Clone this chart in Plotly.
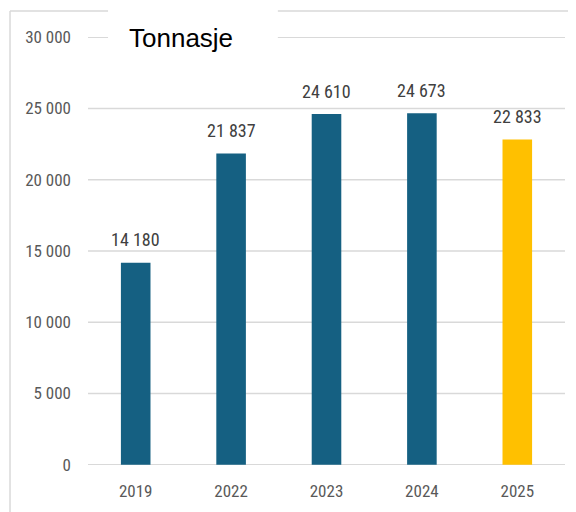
import plotly.graph_objects as go

years = ["2019", "2022", "2023", "2024", "2025"]
tonnage = [14180, 21837, 24610, 24673, 22833]
bar_colors = ["#156082", "#156082", "#156082", "#156082", "#FFC000"]
y_ticks = [0, 5000, 10000, 15000, 20000, 25000, 30000]

def fmt(v):
    return f"{v:,}".replace(",", " ")

NARROW = "Liberation Sans Narrow, Arial Narrow, Roboto Condensed, Liberation Sans, sans-serif"

fig = go.Figure()
fig.add_trace(go.Bar(
    x=years, y=tonnage,
    marker=dict(color=bar_colors, line=dict(width=0)),
    width=0.31,
    hoverinfo="x+y",
))

# category axis positions are the category indices
label_annots = [
    dict(x=i, y=v, xref="x", yref="y", text=fmt(v), showarrow=False,
         yanchor="middle", yshift=23,
         font=dict(family=NARROW, size=18, color="#404040"))
    for i, v in enumerate(tonnage)
]

# gridlines drawn as shapes so the edge ones are always visible
grid_shapes = [
    dict(type="line", xref="paper", yref="y", x0=0, x1=1, y0=t, y1=t,
         line=dict(color="#d9d9d9", width=1.5), layer="below")
    for t in y_ticks
]

fig.update_layout(
    width=576, height=512,
    margin=dict(l=80, r=19, t=29, b=55),
    paper_bgcolor="white", plot_bgcolor="white",
    showlegend=False,
    xaxis=dict(
        type="category", showgrid=False, showline=False, ticks="",
        range=[-0.5, len(years) - 0.5],
        ticklabelstandoff=14,
        tickfont=dict(family=NARROW, size=17, color="#595959"),
    ),
    yaxis=dict(
        range=[-20, 30020], tickvals=y_ticks, ticktext=[fmt(v) for v in y_ticks],
        showgrid=False,
        zeroline=False, showline=False, ticks="",
        ticklabelstandoff=16,
        tickfont=dict(family=NARROW, size=17, color="#595959"),
    ),
    shapes=grid_shapes + [
        dict(type="line", xref="paper", yref="paper", x0=-0.1635, x1=1.05, y0=1.0607, y1=1.0607,
             line=dict(color="#d9d9d9", width=1.5), layer="above"),
        dict(type="line", xref="paper", yref="paper", x0=-0.1635, x1=-0.1635, y0=1.0607, y1=-0.15,
             line=dict(color="#d9d9d9", width=1.5), layer="above"),
        dict(type="rect", xref="paper", yref="paper", x0=0.042, x1=0.398, y0=0.96, y1=1.09,
             fillcolor="white", line=dict(width=0), layer="above"),
    ],
    annotations=label_annots + [
        dict(text="Tonnasje", xref="paper", yref="paper", x=0.195, y=0.998, xanchor="center", yanchor="middle",
             showarrow=False, font=dict(family="Liberation Sans, Arial, sans-serif", size=26, color="black")),
    ],
)

fig.write_html("out.html")
